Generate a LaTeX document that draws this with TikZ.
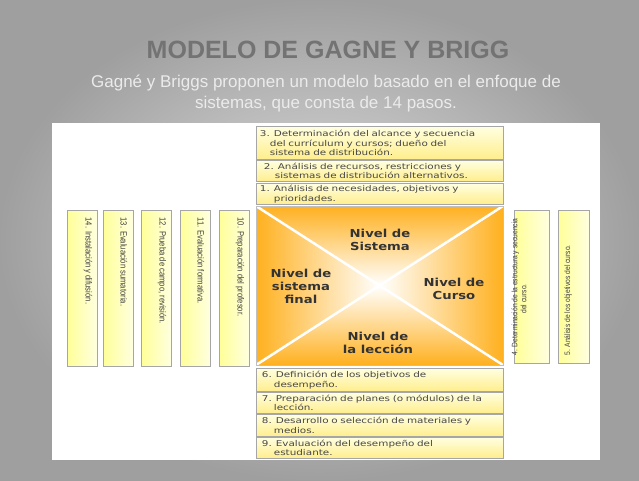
\documentclass[tikz,border=0pt]{standalone}
\usepackage{fontspec}
\setmainfont{Liberation Sans}
\newfontfamily\dv[FakeStretch=1.3]{DejaVu Sans}
\newfontfamily\lv[FakeStretch=1.2]{DejaVu Sans}
\newfontfamily\nar[FakeStretch=0.85]{Liberation Sans}
\begin{document}
\begin{tikzpicture}[x=1pt,y=-1pt,
  hbox/.style={draw=gray!70,line width=0.8pt,top color=yellow!12!white,bottom color=orange!30!yellow!45!white,text width=240,minimum width=247,minimum height=#1,anchor=north west,inner xsep=3.5pt,inner ysep=0pt,align=left,font=\dv\fontsize{8}{9.5}\selectfont,text=black!72},
  vbox/.style={draw=gray!70,line width=0.8pt,left color=yellow!40!white,right color=yellow!12!white,anchor=north west,inner sep=0pt},
  vt/.style={rotate=-90,anchor=west,font=\nar\fontsize{9}{10}\selectfont,text=black!75,align=left},
  vr/.style={rotate=90,anchor=west,font=\nar\fontsize{7.9}{9}\selectfont,text=black!75,align=left},
  lvl/.style={font=\lv\bfseries\fontsize{11}{13}\selectfont,text=black!80,align=center}]
\useasboundingbox (0,0) rectangle (639,480);
\shade[inner color=gray!25,outer color=gray!75] (0,0) rectangle (639,480);
\node[font=\bfseries\fontsize{25}{28}\selectfont,text=black!55] (title) at (328,50) {MODELO DE GAGNE Y BRIGG};
\node[font=\fontsize{17}{21}\selectfont,text=white!92!black,align=center] (sub) at (326,94) {Gagné y Briggs proponen un modelo basado en el enfoque de\\sistemas, que consta de 14 pasos.};
\fill[white] (52,123) rectangle (600,460);
% top boxes
\node[hbox=33] (b3) at (256,126) {3. Determinación del alcance y secuencia\\\hspace{10pt}del currículum y cursos; dueño del\\\hspace{10pt}sistema de distribución.};
\node[hbox=21] (b2) at (256,160) {\hspace{4pt}2. Análisis de recursos, restricciones y\\\hspace{15pt}sistemas de distribución alternativos.};
\node[hbox=21] (b1) at (256,183) {1. Análisis de necesidades, objetivos y\\\hspace{14pt}prioridades.};
% center
\coordinate (c) at (379.5,285.5);
\colorlet{og}{orange!70!yellow!88!white}
\shade[top color=og,bottom color=white] (256,206) -- (503,206) -- (c) -- cycle;
\shade[bottom color=og,top color=white] (256,365) -- (503,365) -- (c) -- cycle;
\shade[left color=og,right color=white] (256,206) -- (256,365) -- (c) -- cycle;
\shade[right color=og,left color=white] (503,206) -- (503,365) -- (c) -- cycle;
\draw[white,line width=2.5pt] (256,206) -- (503,365) (503,206) -- (256,365);
\draw[gray!50,line width=0.5pt] (256,206) rectangle (503,365);
\node[lvl] (ns) at (380,240) {Nivel de\\Sistema};
\node[lvl] (nf) at (301,286) {Nivel de\\sistema\\final};
\node[lvl] (nc) at (454,289) {Nivel de\\Curso};
\node[lvl] (nl) at (378,343) {Nivel de\\la lección};
% bottom boxes
\node[hbox=23] (b6) at (256,368) {\hspace{2pt}6. Definición de los objetivos de\\\hspace{14pt}desempeño.};
\node[hbox=21] (b7) at (256,392) {\hspace{2pt}7. Preparación de planes (o módulos) de la\\\hspace{14pt}lección.};
\node[hbox=22] (b8) at (256,414) {\hspace{2pt}8. Desarrollo o selección de materiales y\\\hspace{14pt}medios.};
\node[hbox=21] (b9) at (256,437) {\hspace{2pt}9. Evaluación del desempeño del\\\hspace{14pt}estudiante.};
% left vertical boxes
\foreach \n/\x/\t in {14/67/{14. Instalación y difusión.},13/103/{13. Evaluación sumatoria.},12/141/{12. Prueba de campo, revisión.},11/180/{11. Evaluación formativa.},10/219/{10. Preparación del profesor.}}{
  \node[vbox,minimum width=30,minimum height=156] (v\n) at (\x,210) {};
  \node[vt] (t\n) at (\x+21,214) {\t};
}
% right vertical boxes
\node[vbox,minimum width=35,minimum height=153] (v4) at (514,210) {};
\node[vr] (t4) at (519,359) {4. Determinación de la estructura y secuencia\\\hspace{42pt}del curso.};
\node[vbox,minimum width=31,minimum height=153] (v5) at (558,210) {};
\node[vr] (t5) at (568,359) {5. Análisis de los objetivos del curso.};
\end{tikzpicture}
\end{document}
